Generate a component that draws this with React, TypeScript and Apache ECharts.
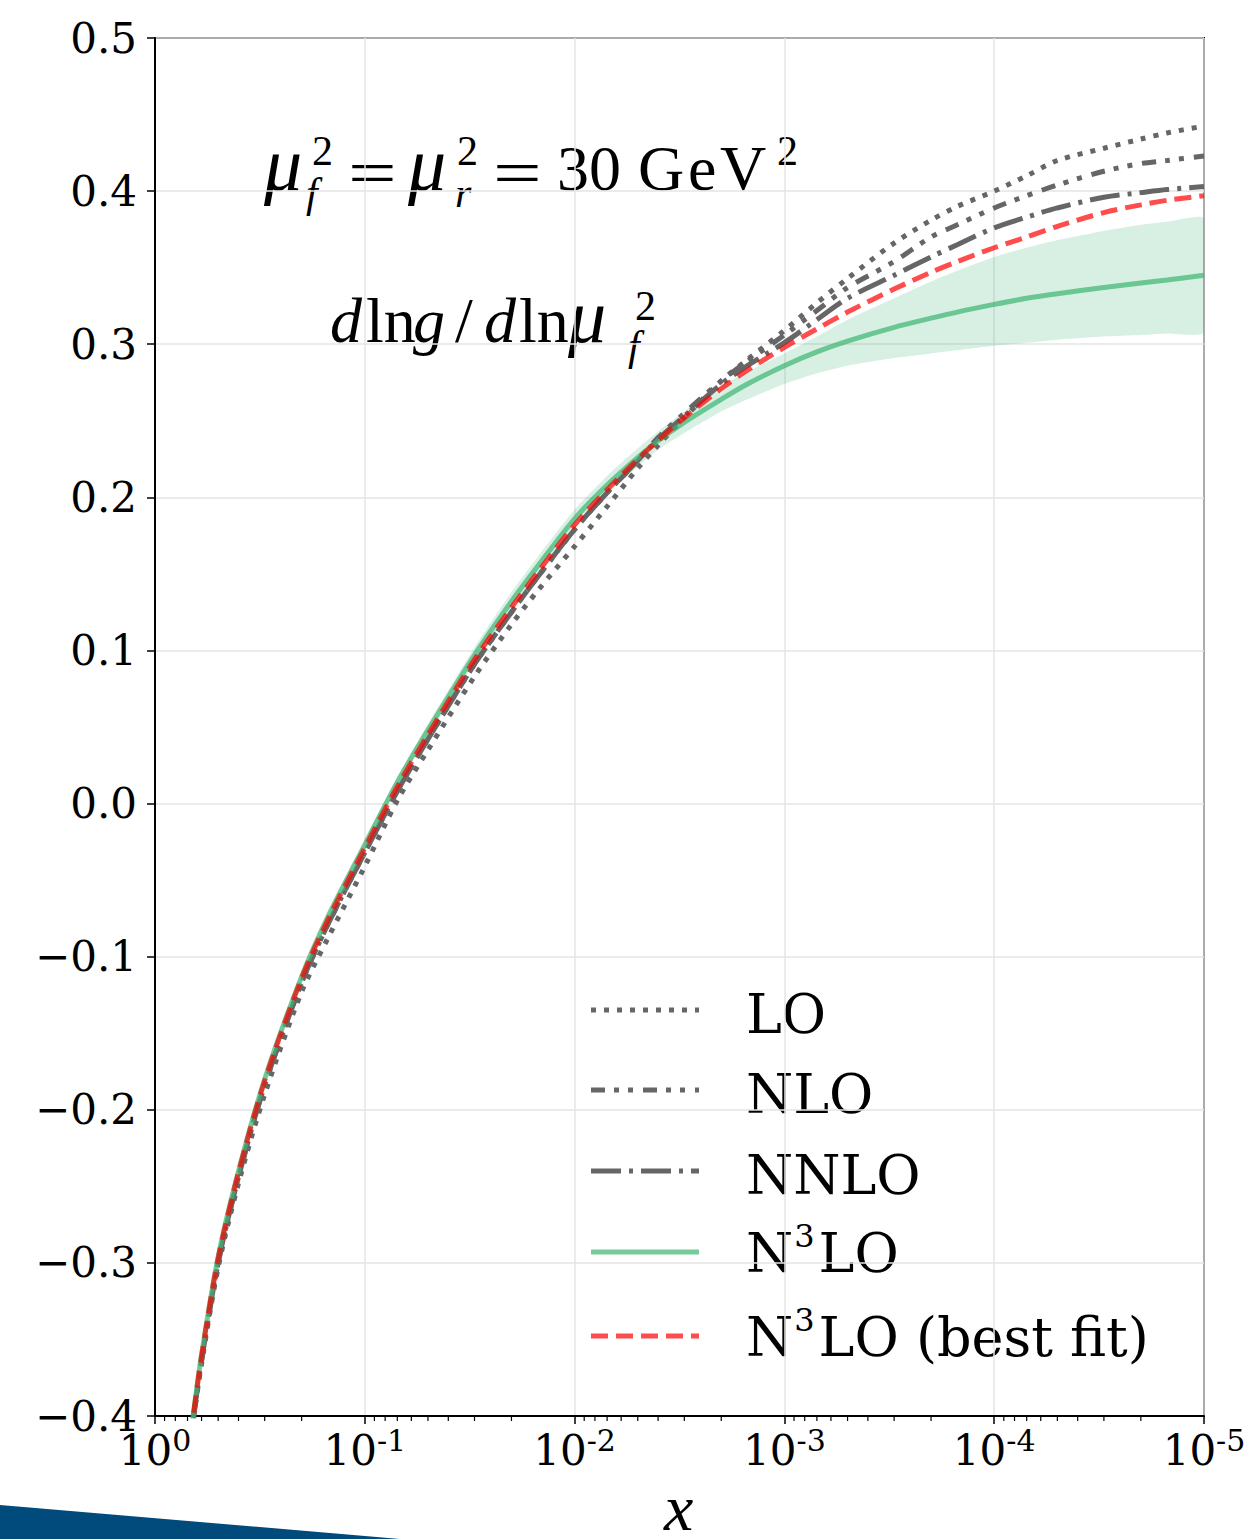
import React, { useEffect, useRef } from "react";
import * as echarts from "echarts";

// ---------------- data ----------------
const xValues = [
  0.7, 0.66, 0.6, 0.5, 0.4, 0.3, 0.2, 0.15, 0.1, 0.07, 0.05, 0.03, 0.02, 0.015, 0.01, 0.007, 0.005, 0.004,
  0.003, 0.002, 0.0015, 0.001, 7e-4, 5e-4, 3e-4, 2e-4, 1.5e-4, 1e-4, 7e-5, 5e-5, 3e-5, 2e-5, 1.5e-5, 1e-5,
];

const loValues = [
  -0.435, -0.405, -0.366, -0.303, -0.248, -0.19, -0.123, -0.088, -0.041, 0.002, 0.035, 0.083, 0.117, 0.139,
  0.168, 0.194, 0.219, 0.234, 0.252, 0.276, 0.29, 0.309, 0.327, 0.343, 0.366, 0.381, 0.39, 0.4, 0.41, 0.42,
  0.428, 0.434, 0.438, 0.4425,
];

const nloValues = [
  -0.432, -0.404, -0.364, -0.3, -0.244, -0.184, -0.117, -0.079, -0.032, 0.008, 0.042, 0.091, 0.125, 0.148,
  0.179, 0.203, 0.224, 0.239, 0.255, 0.276, 0.289, 0.306, 0.322, 0.337, 0.354, 0.37, 0.378, 0.389, 0.397,
  0.404, 0.413, 0.418, 0.42, 0.423,
];

const nnloValues = [
  -0.432, -0.404, -0.364, -0.3, -0.244, -0.184, -0.117, -0.079, -0.032, 0.008, 0.042, 0.091, 0.125, 0.148,
  0.179, 0.203, 0.224, 0.238, 0.253, 0.274, 0.286, 0.301, 0.316, 0.33, 0.345, 0.357, 0.365, 0.376, 0.383,
  0.389, 0.396, 0.399, 0.401, 0.403,
];

const n3loValues = [
  -0.428, -0.401, -0.36, -0.296, -0.24, -0.18, -0.113, -0.074, -0.027, 0.014, 0.048, 0.097, 0.132, 0.155,
  0.186, 0.208, 0.226, 0.237, 0.249, 0.264, 0.274, 0.286, 0.295, 0.302, 0.311, 0.317, 0.321, 0.326, 0.33,
  0.333, 0.337, 0.34, 0.342, 0.345,
];

const n3loUpper = [
  -0.426, -0.399, -0.358, -0.294, -0.238, -0.178, -0.111, -0.072, -0.024, 0.017, 0.052, 0.102, 0.138, 0.161,
  0.192, 0.214, 0.232, 0.243, 0.256, 0.273, 0.282, 0.294, 0.305, 0.316, 0.33, 0.341, 0.348, 0.357, 0.363,
  0.368, 0.374, 0.378, 0.38, 0.382,
];

const n3loLower = [
  -0.43, -0.403, -0.362, -0.298, -0.242, -0.182, -0.115, -0.076, -0.03, 0.011, 0.044, 0.092, 0.126, 0.149,
  0.18, 0.202, 0.22, 0.231, 0.242, 0.256, 0.264, 0.274, 0.281, 0.286, 0.291, 0.294, 0.296, 0.299, 0.301,
  0.303, 0.305, 0.306, 0.307, 0.308,
];

const bestFitValues = [
  -0.43, -0.402, -0.361, -0.297, -0.241, -0.181, -0.114, -0.076, -0.029, 0.011, 0.045, 0.094, 0.128, 0.151,
  0.182, 0.205, 0.225, 0.237, 0.252, 0.271, 0.283, 0.298, 0.31, 0.321, 0.336, 0.347, 0.354, 0.363, 0.37,
  0.377, 0.386, 0.391, 0.394, 0.397,
];

const seriesNames = ["LO", "NLO", "NNLO", "N3LO", "N3LO (best fit)"];
const legendLabels = ["{b|LO}", "{b|NLO}", "{b|NNLO}", "{b|N}{s|3}{b|LO}", "{b|N}{s|3}{b|LO (best fit)}"];

const xMin = 1e-5;
const xMax = 1;
const yMin = -0.4;
const yMax = 0.5;
const yInterval = 0.1;

// minor tick positions (2..9 within each decade)
const minorTickX: number[] = [];
for (const d of [1, 0.1, 0.01, 0.001, 1e-4]) {
  for (let k = 2; k <= 9; k++) minorTickX.push((k * d) / 10);
}

// ---------------- styles ----------------
const GREY = "#666666";
const GREEN = "rgba(60,179,113,0.7)";
const GREEN_BAND = "rgba(60,179,113,0.2)";
const RED = "rgba(255,0,0,0.7)";
const TICK_FONT = "DejaVu Serif";
const MATH_FONT = "Liberation Serif, DejaVu Serif, serif";

const lineStyles = [
  { color: GREY, dash: [5, 8] as any },
  { color: GREY, dash: [14, 9, 5, 9, 5, 10] as any },
  { color: GREY, dash: [30, 8, 4, 8] as any },
  { color: GREEN, dash: "solid" as any },
  { color: RED, dash: [17, 8] as any },
];

// text piece placed by its baseline
function mkText(
  text: string,
  x: number,
  baseline: number,
  size: number,
  italic: boolean,
  opts: { scaleX?: number; lineHeight?: number } = {}
) {
  return {
    type: "text",
    x,
    y: baseline - 0.34 * size,
    scaleX: opts.scaleX ?? 1,
    silent: true,
    style: {
      text: "{t|" + text + "}",
      align: "left",
      verticalAlign: "middle",
      rich: {
        t: {
          fontSize: size,
          fontFamily: MATH_FONT,
          fontStyle: italic ? "italic" : "normal",
          lineHeight: opts.lineHeight ?? size,
          fill: "#000",
          color: "#000",
        },
      },
    },
  };
}

export default function App() {
  const ref = useRef<HTMLDivElement>(null);

  useEffect(() => {
    if (!ref.current) return;
    const chart = echarts.init(ref.current, undefined, { renderer: "svg" });

    const lineData = [loValues, nloValues, nnloValues, n3loValues, bestFitValues];

    const lineSeries = lineData.map((ys, si) => ({
      name: seriesNames[si],
      type: "line",
      data: xValues.map((x, i) => [x, ys[i]]),
      showSymbol: false,
      symbol: "none",
      smooth: 0.3,
      clip: true,
      silent: true,
      z: 3 + si,
      lineStyle: { color: lineStyles[si].color, width: 5, type: lineStyles[si].dash, cap: "butt" },
    }));

    const bandSeries = {
      type: "custom",
      name: "N3LO band",
      clip: true,
      silent: true,
      z: 2,
      data: xValues.map((x, i) => [x, n3loLower[i], n3loUpper[i]]),
      encode: { x: 0, y: [1, 2] },
      renderItem: (params: any, api: any) => {
        if (params.dataIndex !== 0) return null;
        const up = xValues.map((x, i) => api.coord([x, n3loUpper[i]]));
        const lo = xValues.map((x, i) => api.coord([x, n3loLower[i]])).reverse();
        return {
          type: "polygon",
          shape: { points: up.concat(lo), smooth: 0.2 },
          style: { fill: GREEN_BAND, stroke: "none" },
        };
      },
    };

    const minorTickSeries = {
      type: "custom",
      name: "minor ticks",
      clip: false,
      silent: true,
      z: 10,
      data: minorTickX.map((x) => [x, yMin]),
      renderItem: (params: any, api: any) => {
        const p = api.coord([api.value(0), api.value(1)]);
        return {
          type: "line",
          shape: { x1: p[0], y1: p[1], x2: p[0], y2: p[1] + 5 },
          style: { stroke: "#000", lineWidth: 1.2 },
        };
      },
    };

    // legend (drawn manually)
    const legendY = [1010, 1090, 1171, 1252, 1336];
    const legendGraphics: any[] = [];
    lineStyles.forEach((ls, i) => {
      legendGraphics.push({
        type: "line",
        silent: true,
        shape: { x1: 591, y1: legendY[i], x2: 699, y2: legendY[i] },
        style: {
          stroke: ls.color,
          lineWidth: 5,
          lineDash: ls.dash === "solid" ? null : ls.dash,
          lineCap: "butt",
        },
      });
      legendGraphics.push({
        type: "text",
        x: 746,
        y: legendY[i] + (i >= 3 ? -2 : 1),
        silent: true,
        style: {
          text: legendLabels[i],
          align: "left",
          verticalAlign: "middle",
          fill: "#000",
          rich: {
            b: { fontSize: 54, fontFamily: TICK_FONT, lineHeight: 60, verticalAlign: "bottom", fill: "#000" },
            s: {
              fontSize: 32,
              fontFamily: TICK_FONT,
              lineHeight: 35,
              verticalAlign: "top",
              fill: "#000",
              padding: [0, 4, 0, 1],
            },
          },
        },
      });
    });

    // annotations
    const M = 64;
    const MU = 76;
    const S = 42;
    const annotation = [
      mkText("μ", 264, 190, MU, true),
      mkText("2", 312, 165, S, false),
      mkText("f", 306, 207, S, true),
      mkText("=", 348, 194, M, false, { scaleX: 1.35 }),
      mkText("μ", 408, 190, MU, true),
      mkText("2", 457, 165, S, false),
      mkText("r", 455, 207, S, true),
      mkText("=", 493, 194, M, false, { scaleX: 1.35 }),
      mkText("30", 557, 190, M, false),
      mkText("G", 638, 190, M, false),
      mkText("e", 688, 190, M, false),
      mkText("V", 720, 190, M, false),
      mkText("2", 777, 165, S, false),

      mkText("d", 330, 342, M, true),
      mkText("ln", 366, 342, M, false),
      mkText("g", 413, 342, M, true),
      mkText("/", 455, 342, M, false),
      mkText("d", 484, 342, M, true),
      mkText("ln", 519, 342, M, false),
      mkText("μ", 568, 342, MU, true),
      mkText("2", 635, 320, S, false),
      mkText("f", 628, 360, S, true),

      mkText("x", 664, 1530, 66, true, { lineHeight: 44 }),
    ];

    const option: any = {
      animation: false,
      backgroundColor: "#ffffff",
      grid: {
        left: 155,
        top: 38,
        width: 1049,
        height: 1378,
        show: true,
        borderColor: "#000",
        borderWidth: 2,
        backgroundColor: "transparent",
        containLabel: false,
      },
      xAxis: {
        type: "log",
        logBase: 10,
        min: xMin,
        max: xMax,
        inverse: true,
        axisLine: { show: true, onZero: false, lineStyle: { color: "#000", width: 2 } },
        axisTick: { show: true, length: 8, lineStyle: { color: "#000", width: 1.5 } },
        minorTick: { show: false },
        splitLine: { show: true, lineStyle: { color: "#e5e5e5", width: 1.5 } },
        axisLabel: {
          margin: 9,
          showMinLabel: true,
          showMaxLabel: true,
          formatter: (v: number) => {
            const e = Math.round(Math.log10(v));
            return `{b|10}{s|${e}}`;
          },
          rich: {
            b: { fontSize: 42, fontFamily: TICK_FONT, lineHeight: 46, verticalAlign: "bottom", color: "#000" },
            s: { fontSize: 30, fontFamily: TICK_FONT, lineHeight: 24, verticalAlign: "top", color: "#000" },
          },
        },
      },
      yAxis: {
        type: "value",
        min: yMin,
        max: yMax,
        interval: yInterval,
        axisLine: { show: true, onZero: false, lineStyle: { color: "#000", width: 2 } },
        axisTick: { show: true, length: 8, lineStyle: { color: "#000", width: 1.5 } },
        splitLine: { show: true, lineStyle: { color: "#e5e5e5", width: 1.5 } },
        axisLabel: {
          margin: 18,
          fontSize: 42,
          fontFamily: TICK_FONT,
          color: "#000",
          showMinLabel: true,
          showMaxLabel: true,
          formatter: (v: number) => {
            const s = Math.abs(v) < 1e-9 ? "0.0" : v.toFixed(1);
            return s.replace("-", "\u2212");
          },
        },
      },
      series: [bandSeries, ...lineSeries, minorTickSeries],
      graphic: [
        {
          type: "polygon",
          silent: true,
          z: 100,
          shape: { points: [[0, 1505], [400, 1539], [0, 1539]] },
          style: { fill: "#004b7c" },
        },
        ...legendGraphics,
        ...annotation,
      ],
    };

    chart.setOption(option);
    return () => chart.dispose();
  }, []);

  return (
    <div
      ref={ref}
      style={{ position: "absolute", left: 0, top: 0, width: 1256, height: 1539, background: "#fff" }}
    />
  );
}
